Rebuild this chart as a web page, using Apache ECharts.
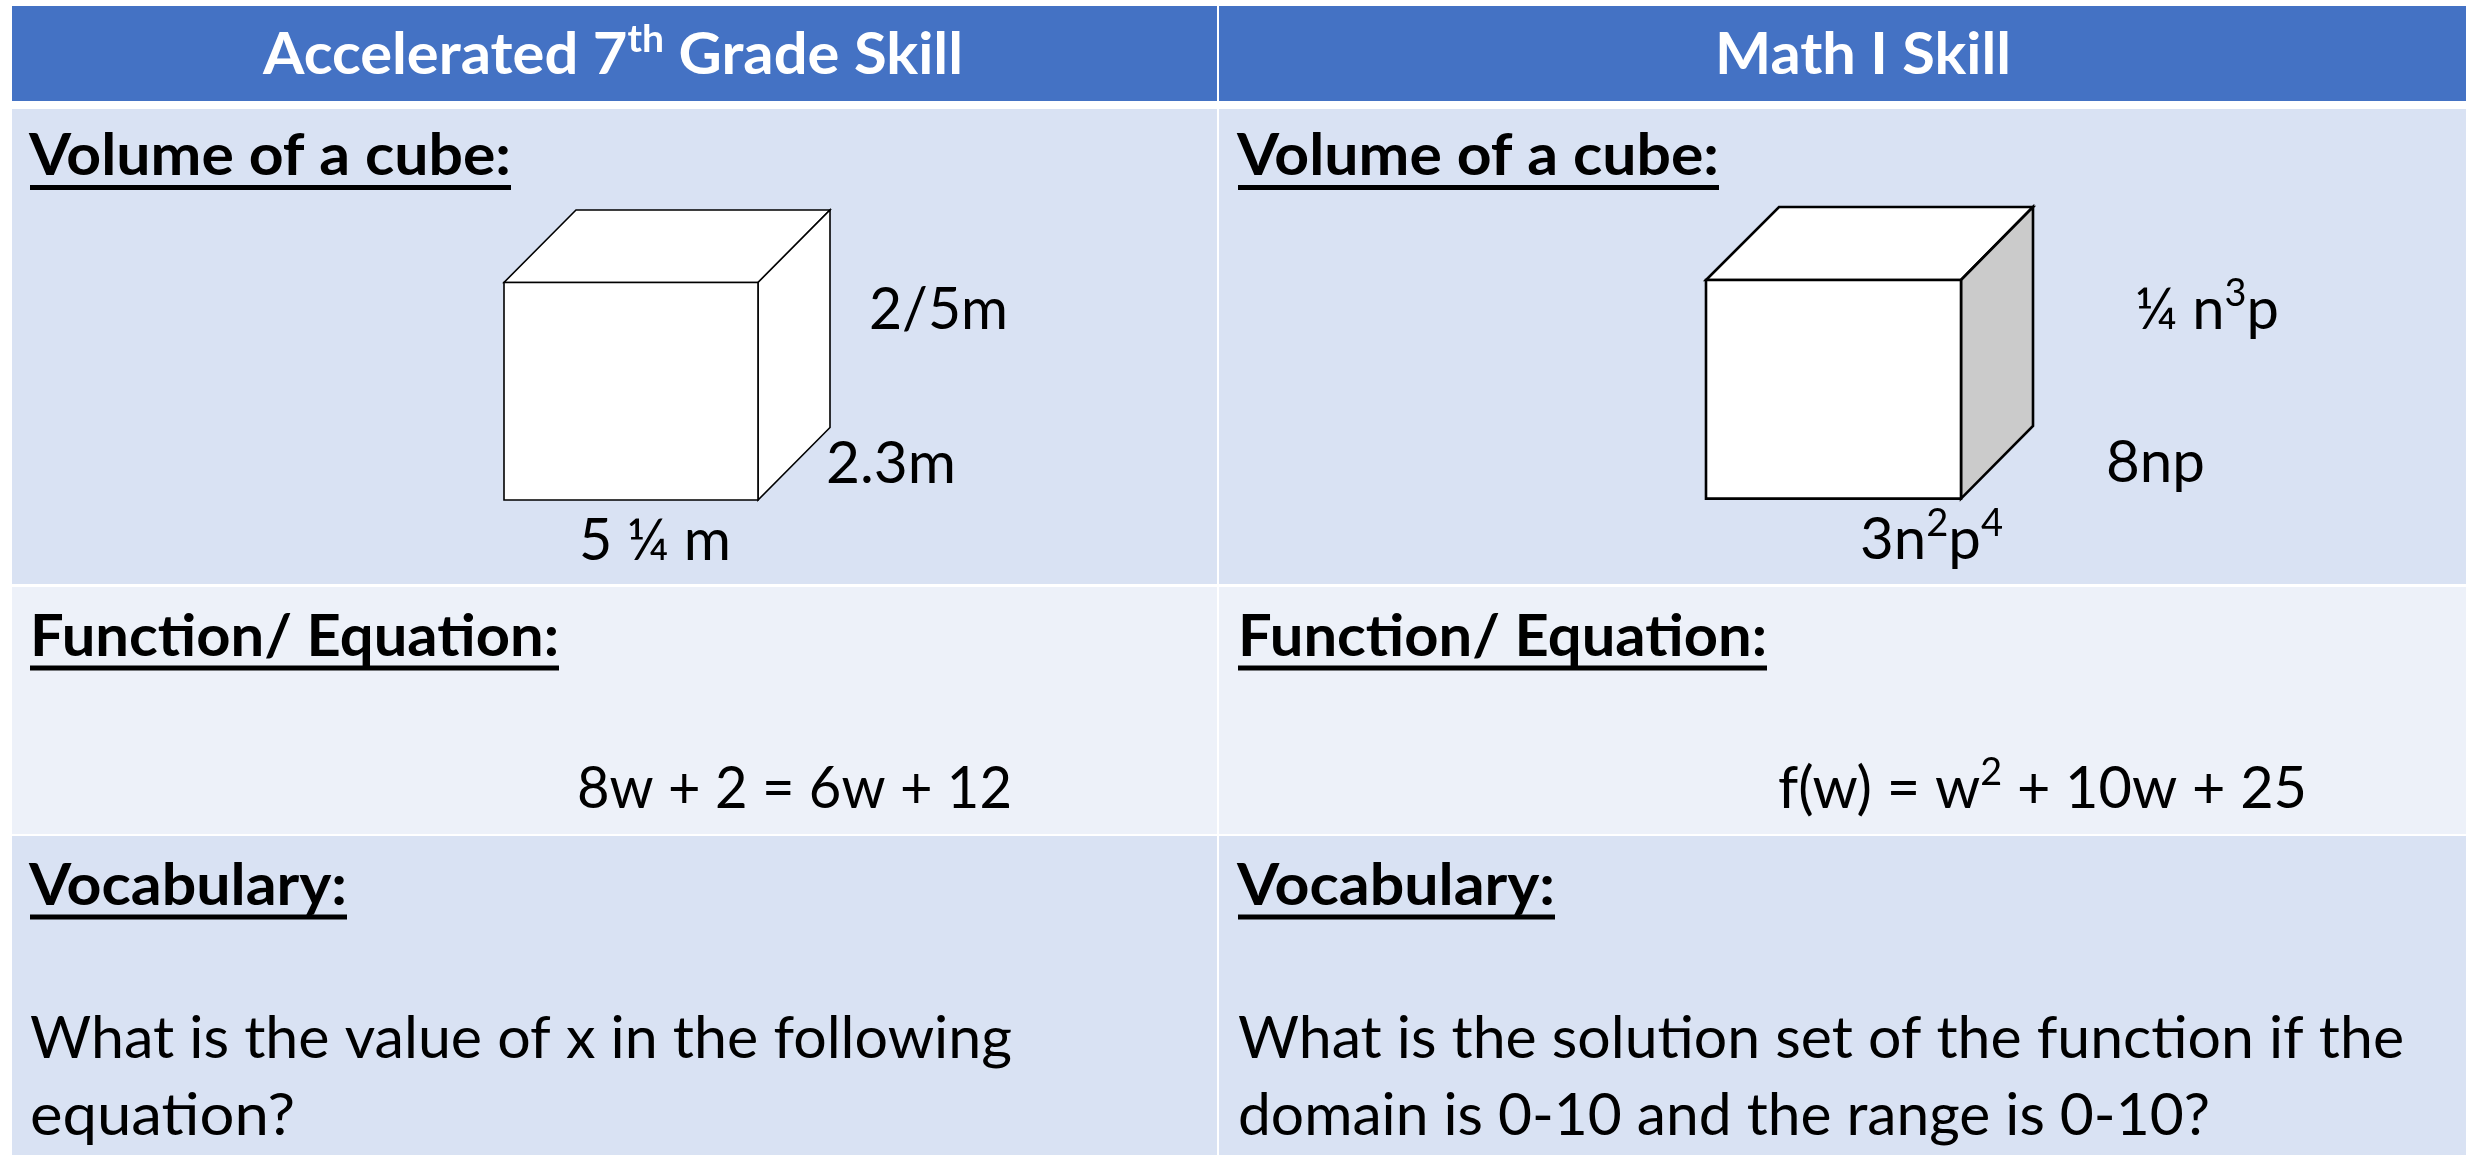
<!DOCTYPE html>
<html>
<head>
<meta charset="utf-8">
<style>html,body{margin:0;background:#fff}#main{width:2466px;height:1155px}</style>
<script src="https://cdn.jsdelivr.net/npm/echarts@6/dist/echarts.min.js"></script>
</head>
<body>
<div id="main"></div>
<script>
const headers = ['Accelerated 7{s|th} Grade Skill', 'Math I Skill'];
const rowTitles = ['Volume of a cube:', 'Function/ Equation:', 'Vocabulary:'];
const leftCubeLabels = ['2/5m', '2.3m', '5 ¼ m'];
const rightCubeLabels = ['¼ n{s|3}p', '8np', '3n{s|2}p{s|4}'];
const equations = ['8w + 2 = 6w + 12', 'f(w) = w{s|2} + 10w + 25'];
const leftQuestion = ['What is the value of x in the following', 'equation?'];
const rightQuestion = ['What is the solution set of the function if the', 'domain is 0-10 and the range is 0-10?'];

const FONT = 'Lato';
const FS = 58;
const SUP_FS = 38;
const BASE_SHIFT = 0.31;

// x0, x1, y0, y1, colour
const cells = [
    [12, 1217, 6, 101, '#4472C4'],
    [1219, 2466, 6, 101, '#4472C4'],
    [12, 1217, 109, 584, '#D9E2F3'],
    [1219, 2466, 109, 584, '#D9E2F3'],
    [12, 1217, 587, 834, '#EDF1F9'],
    [1219, 2466, 587, 834, '#EDF1F9'],
    [12, 1217, 836, 1155, '#D9E2F3'],
    [1219, 2466, 836, 1155, '#D9E2F3']
];

// x0 front left, x1 front right, x2 back left, x3 back right, y0 top, y1 front top, y2 back bottom, y3 bottom, side colour, line width
const cubes = [
    [504, 758, 576, 830, 210, 282.5, 427.5, 500, '#FFFFFF', 1.6],
    [1706, 1961, 1779, 2033, 207, 280, 426, 498.6, '#CBCBCB', 2.6]
];

// underlines under the row titles
const underlines = [
    [30, 511, 187.5], [1238, 1719, 187.5],
    [30, 559, 668], [1238, 1767, 668],
    [30, 347, 917], [1238, 1555, 917]
];

// text, x0, x1, baseline, bold, colour
const labels = [
    [headers[0], 265, 962, 73.5, true, '#FFFFFF'],
    [headers[1], 1717, 2010, 73.5, true, '#FFFFFF'],
    [rowTitles[0], 31, 510, 174, true, '#000'],
    [rowTitles[0], 1239, 1718, 174, true, '#000'],
    [rowTitles[1], 32, 558, 655, true, '#000'],
    [rowTitles[1], 1240, 1766, 655, true, '#000'],
    [rowTitles[2], 31, 346, 904, true, '#000'],
    [rowTitles[2], 1239, 1554, 904, true, '#000'],
    [leftCubeLabels[0], 871, 1007, 328, false, '#000'],
    [leftCubeLabels[1], 828, 955, 482, false, '#000'],
    [leftCubeLabels[2], 581, 730, 559, false, '#000'],
    [rightCubeLabels[0], 2137, 2278, 328, false, '#000'],
    [rightCubeLabels[1], 2108, 2204, 481, false, '#000'],
    [rightCubeLabels[2], 1862, 2002, 558, false, '#000'],
    [equations[0], 579, 1011, 807, false, '#000'],
    [equations[1], 1780, 2306, 807, false, '#000'],
    [leftQuestion[0], 32, 1011, 1057, false, '#000'],
    [leftQuestion[1], 32, 294, 1134, false, '#000'],
    [rightQuestion[0], 1240, 2403, 1057, false, '#000'],
    [rightQuestion[1], 1240, 2209, 1134, false, '#000']
];

const measureCtx = document.createElement('canvas').getContext('2d');

// width of a label, superscript runs included
function textWidth(text, bold) {
    const weight = bold ? 'bold ' : '';
    let w = 0;
    text.split(/(\{s\|[^}]*\})/).forEach((part) => {
        if (!part) return;
        const sup = part.match(/^\{s\|([^}]*)\}$/);
        measureCtx.font = weight + (sup ? SUP_FS : FS) + 'px ' + FONT;
        w += measureCtx.measureText(sup ? sup[1] : part).width;
    });
    return w;
}

function renderCell(params, api) {
    const c = cells[params.dataIndex];
    const a = api.coord([c[0], c[2]]);
    const b = api.coord([c[1], c[3]]);
    return {
        type: 'rect',
        shape: { x: a[0], y: a[1], width: b[0] - a[0], height: b[1] - a[1] },
        style: { fill: c[4] }
    };
}

function renderCube(params, api) {
    const c = cubes[params.dataIndex];
    const p = (x, y) => api.coord([x, y]);
    const line = { stroke: '#000', lineWidth: c[9], lineJoin: 'miter' };
    return {
        type: 'group',
        children: [
            {
                type: 'polygon',
                shape: { points: [p(c[0], c[5]), p(c[1], c[5]), p(c[3], c[4]), p(c[2], c[4])] },
                style: Object.assign({ fill: '#FFFFFF' }, line)
            },
            {
                type: 'polygon',
                shape: { points: [p(c[1], c[5]), p(c[3], c[4]), p(c[3], c[6]), p(c[1], c[7])] },
                style: Object.assign({ fill: c[8] }, line)
            },
            {
                type: 'polygon',
                shape: { points: [p(c[0], c[5]), p(c[1], c[5]), p(c[1], c[7]), p(c[0], c[7])] },
                style: Object.assign({ fill: '#FFFFFF' }, line)
            }
        ]
    };
}

function renderUnderline(params, api) {
    const u = underlines[params.dataIndex];
    const a = api.coord([u[0], u[2]]);
    const b = api.coord([u[1], u[2]]);
    return {
        type: 'line',
        shape: { x1: a[0], y1: a[1], x2: b[0], y2: b[1] },
        style: { stroke: '#000', lineWidth: 5 }
    };
}

function renderLabel(params, api) {
    const l = labels[params.dataIndex];
    // glyph side bearings: start a little early, end a little late
    const x0 = l[1] - 2;
    const x1 = l[2] + 1;
    const pos = api.coord([x0, l[3] - BASE_SHIFT * FS]);
    const weight = l[4] ? 'bold' : 'normal';
    return {
        type: 'text',
        x: pos[0],
        y: pos[1],
        scaleX: (x1 - x0) / textWidth(l[0], l[4]),
        style: {
            text: l[0],
            fill: l[5],
            align: 'left',
            verticalAlign: 'middle',
            fontFamily: FONT,
            fontSize: FS,
            fontWeight: weight,
            lineHeight: 70,
            rich: {
                s: {
                    fontFamily: FONT,
                    fontSize: SUP_FS,
                    fontWeight: weight,
                    fill: l[5],
                    verticalAlign: 'top',
                    lineHeight: 44
                }
            }
        }
    };
}

function idx(list) {
    return list.map((d, i) => [i]);
}

function customSeries(list, renderItem, z) {
    return {
        type: 'custom',
        coordinateSystem: 'cartesian2d',
        silent: true,
        z: z,
        clip: false,
        animation: false,
        data: idx(list),
        encode: { x: [], y: [] },
        renderItem: renderItem
    };
}

const chart = echarts.init(document.getElementById('main'));
chart.setOption({
    animation: false,
    backgroundColor: '#FFFFFF',
    grid: { left: 0, right: 0, top: 0, bottom: 0 },
    xAxis: { type: 'value', min: 0, max: 2466, show: false },
    yAxis: { type: 'value', min: 0, max: 1155, inverse: true, show: false },
    series: [
        customSeries(cells, renderCell, 1),
        customSeries(cubes, renderCube, 2),
        customSeries(underlines, renderUnderline, 3),
        customSeries(labels, renderLabel, 4)
    ]
});
</script>
</body>
</html>
